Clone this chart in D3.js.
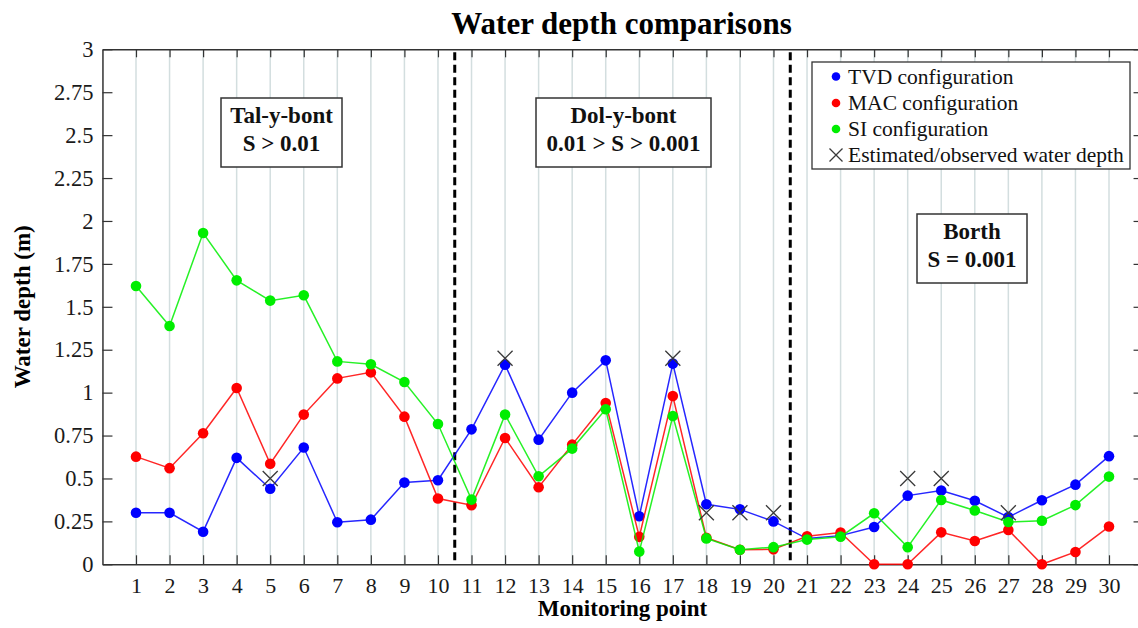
<!DOCTYPE html>
<html>
<head>
<meta charset="utf-8">
<script src="https://cdn.jsdelivr.net/npm/d3@7"></script>
<style>
  html, body { margin: 0; padding: 0; background: #fff; }
  svg { display: block; }
  svg text { font-family: "Liberation Serif", "Times New Roman", "DejaVu Serif", serif; }
</style>
</head>
<body>
<svg id="chart" width="1138" height="628"></svg>
<script>
// ---- data ----
const points = d3.range(1, 31);
const tvdDepth = [0.30, 0.30, 0.19, 0.62, 0.44, 0.68, 0.245, 0.26, 0.476, 0.49,
                  0.786, 1.163, 0.726, 1.0, 1.188, 0.28, 1.169, 0.35, 0.32, 0.25,
                  0.15, 0.167, 0.217, 0.40, 0.43, 0.37, 0.275, 0.373, 0.464, 0.63];
const macDepth = [0.627, 0.56, 0.763, 1.027, 0.586, 0.872, 1.083, 1.118, 0.86, 0.383,
                  0.344, 0.736, 0.449, 0.697, 0.94, 0.16, 0.98, 0.155, 0.085, 0.087,
                  0.163, 0.185, 0, 0, 0.186, 0.136, 0.2, 0, 0.072, 0.22];
const siDepth  = [1.621, 1.388, 1.93, 1.654, 1.536, 1.567, 1.182, 1.165, 1.062, 0.817,
                  0.377, 0.872, 0.513, 0.674, 0.903, 0.074, 0.864, 0.151, 0.085, 0.10,
                  0.144, 0.161, 0.297, 0.10, 0.375, 0.313, 0.246, 0.254, 0.345, 0.511];
const obsPoints = [5, 12, 17, 18, 19, 20, 24, 25, 27];
const obsDepth  = [0.5, 1.2, 1.2, 0.3, 0.3, 0.3, 0.5, 0.5, 0.3];
const yTicks = [0, 0.25, 0.5, 0.75, 1, 1.25, 1.5, 1.75, 2, 2.25, 2.5, 2.75, 3];
const yTickLabels = ["0", "0.25", "0.5", "0.75", "1", "1.25", "1.5", "1.75", "2", "2.25", "2.5", "2.75", "3"];
const dividers = [10.5, 20.5];
const seriesNames = ["TVD configuration", "MAC configuration", "SI configuration"];
const obsName = "Estimated/observed water depth";
const regionLines1 = ["Tal-y-bont", "Dol-y-bont", "Borth"];
const regionLines2 = ["S > 0.01", "0.01 > S > 0.001", "S = 0.001"];

// ---- layout ----
const FONT = '"Liberation Serif", "Times New Roman", "DejaVu Serif", serif';
const svg = d3.select("#chart");
const x = d3.scaleLinear().domain([0, 31]).range([102.45, 1142.55]);
const y = d3.scaleLinear().domain([0, 3]).range([564.3, 49.3]);
const colors = ["#0000ff", "#ff0000", "#00ee00"];
const axisColor = "#333";

// vertical grid
svg.append("g").selectAll("line").data(points).join("line")
  .attr("x1", d => x(d)).attr("x2", d => x(d))
  .attr("y1", y(0)).attr("y2", y(3))
  .attr("stroke", "#d3dedf").attr("stroke-width", 1.5);

// divider dashed lines
svg.append("g").selectAll("line").data(dividers).join("line")
  .attr("x1", d => x(d)).attr("x2", d => x(d))
  .attr("y1", y(3) + 3).attr("y2", y(0))
  .attr("stroke", "#000").attr("stroke-width", 3)
  .attr("stroke-dasharray", "8,4.5");

// axes
function styleAxis(g) {
  g.attr("font-family", FONT);
  g.select(".domain").attr("stroke", axisColor).attr("stroke-width", 1.5);
  g.selectAll(".tick line").attr("stroke", axisColor).attr("stroke-width", 1.2);
  g.selectAll(".tick text").attr("fill", "#1a1a1a").attr("font-family", FONT);
}
svg.append("g").attr("transform", `translate(0,${y(0)})`)
  .call(d3.axisBottom(x).tickValues(points).tickSizeInner(-9).tickSizeOuter(0).tickPadding(13))
  .call(styleAxis)
  .selectAll(".tick text").attr("font-size", 22);
svg.append("g").attr("transform", `translate(0,${y(3)})`)
  .call(d3.axisTop(x).tickValues(points).tickSizeInner(-8).tickSizeOuter(0).tickFormat(""))
  .call(styleAxis);
svg.append("g").attr("transform", `translate(${x(0)},0)`)
  .call(d3.axisLeft(y).tickValues(yTicks).tickFormat((d, i) => yTickLabels[i])
        .tickSizeInner(-10).tickSizeOuter(0).tickPadding(9))
  .call(styleAxis)
  .selectAll(".tick text").attr("font-size", 22.5);
svg.append("g").attr("transform", `translate(${x(31)},0)`)
  .call(d3.axisRight(y).tickValues(yTicks).tickSizeInner(-9).tickSizeOuter(0).tickFormat(""))
  .call(styleAxis);

// series
const seriesData = [tvdDepth, macDepth, siDepth];
const line = d3.line().x((d, i) => x(points[i])).y(d => y(d));
seriesData.forEach((vals, k) => {
  const g = svg.append("g");
  g.append("path").datum(vals).attr("d", line)
    .attr("fill", "none").attr("stroke", colors[k]).attr("stroke-width", 1.5)
    .attr("stroke-opacity", 0.85);
  g.selectAll("circle").data(vals).join("circle")
    .attr("cx", (d, i) => x(points[i])).attr("cy", d => y(d))
    .attr("r", 5.3).attr("fill", colors[k]);
});

// observed X markers
const xs = 7.5;
const obsG = svg.append("g");
obsPoints.forEach((p, i) => {
  const cx = x(p), cy = y(obsDepth[i]);
  obsG.append("path")
    .attr("d", `M${cx - xs},${cy - xs}L${cx + xs},${cy + xs}M${cx - xs},${cy + xs}L${cx + xs},${cy - xs}`)
    .attr("stroke", "#3a3a3a").attr("stroke-width", 1.3).attr("fill", "none");
});

// region boxes
const boxes = [
  { x0: 221, x1: 342, y0: 98, y1: 167 },
  { x0: 536, x1: 711, y0: 98, y1: 167 },
  { x0: 917, x1: 1027, y0: 214, y1: 283 }
];
boxes.forEach((b, i) => {
  const g = svg.append("g");
  g.append("rect").attr("x", b.x0).attr("y", b.y0)
    .attr("width", b.x1 - b.x0).attr("height", b.y1 - b.y0)
    .attr("fill", "#fff").attr("stroke", "#333").attr("stroke-width", 1.5);
  const cx = (b.x0 + b.x1) / 2;
  g.append("text").attr("x", cx).attr("y", b.y0 + 25).attr("font-family", FONT)
    .attr("text-anchor", "middle").attr("font-weight", "bold").attr("font-size", 23)
    .attr("fill", "#111").text(regionLines1[i]);
  g.append("text").attr("x", cx).attr("y", b.y0 + 53).attr("font-family", FONT)
    .attr("text-anchor", "middle").attr("font-weight", "bold").attr("font-size", 23)
    .attr("fill", "#111").text(regionLines2[i]);
});

// legend
const lg = svg.append("g");
lg.append("rect").attr("x", 812).attr("y", 62).attr("width", 318).attr("height", 107)
  .attr("fill", "#fff").attr("stroke", "#333").attr("stroke-width", 1.3);
const baselines = [83.5, 110, 136, 162];
seriesNames.forEach((name, i) => {
  lg.append("circle").attr("cx", 836).attr("cy", baselines[i] - 7).attr("r", 4.3).attr("fill", colors[i]);
  lg.append("text").attr("x", 848).attr("y", baselines[i]).attr("font-size", 21.5)
    .attr("font-family", FONT).attr("fill", "#111").text(name);
});
{
  const cx = 836, cy = baselines[3] - 7, s = 6.5;
  lg.append("path")
    .attr("d", `M${cx - s},${cy - s}L${cx + s},${cy + s}M${cx - s},${cy + s}L${cx + s},${cy - s}`)
    .attr("stroke", "#3a3a3a").attr("stroke-width", 1.3);
  lg.append("text").attr("x", 848).attr("y", baselines[3]).attr("font-size", 21.5)
    .attr("font-family", FONT).attr("fill", "#111").text(obsName);
}

// titles
svg.append("text").attr("x", 621.5).attr("y", 34).attr("text-anchor", "middle")
  .attr("font-family", FONT).attr("font-weight", "bold").attr("font-size", 31).attr("fill", "#000")
  .text("Water depth comparisons");
svg.append("text").attr("x", 622.5).attr("y", 616).attr("text-anchor", "middle")
  .attr("font-family", FONT).attr("font-weight", "bold").attr("font-size", 23).attr("fill", "#000")
  .text("Monitoring point");
svg.append("text").attr("transform", `translate(30,${(y(0) + y(3)) / 2}) rotate(-90)`)
  .attr("font-family", FONT).attr("text-anchor", "middle").attr("font-weight", "bold")
  .attr("font-size", 23).attr("fill", "#000")
  .text("Water depth (m)");
</script>
</body>
</html>
